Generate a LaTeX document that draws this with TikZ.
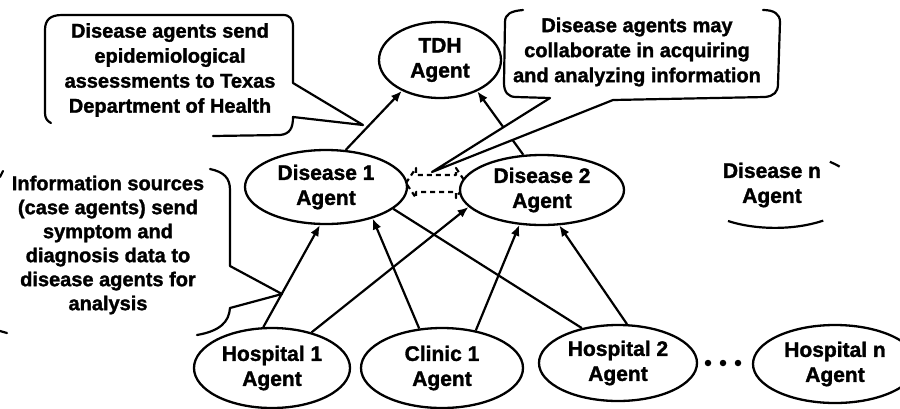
\documentclass[tikz,border=0pt]{standalone}
\usepackage{fontspec}
\setmainfont{Liberation Sans}[BoldFeatures={FakeBold=1.5}]
\usetikzlibrary{shapes.geometric,arrows.meta,backgrounds}
\begin{document}
\begin{tikzpicture}[x=1pt,y=1pt,
  agent/.style={ellipse,draw,line width=2.3pt,fill=white,inner sep=0pt,align=center,font=\fontsize{21}{25}\selectfont\bfseries},
  note/.style={align=center,font=\fontsize{20}{25}\selectfont\bfseries,inner sep=0pt},
  arr/.style={line width=2.2pt,-{Latex[length=11pt,width=9pt]}},
  link/.style={line width=2.2pt},
  callout/.style={line width=2.2pt,line join=round,line cap=round},
  dasharr/.style={line width=2.2pt,dash pattern=on 5pt off 4pt,line join=round},
]
\useasboundingbox (0,0) rectangle (900,-408);

% agents
\node[agent,minimum width=122pt,minimum height=76pt] (tdh) at (440,-60) {TDH\\Agent};
\node[agent,minimum width=162pt,minimum height=74pt] (d1) at (326,-187) {Disease 1\\Agent};
\node[agent,minimum width=164pt,minimum height=70pt] (d2) at (542,-190) {Disease 2\\Agent};
\node[note,font=\fontsize{21}{25}\selectfont\bfseries] (dn) at (772,-185) {Disease n\\Agent};
\node[agent,minimum width=156pt,minimum height=80pt] (h1) at (272,-368) {Hospital 1\\Agent};
\node[agent,minimum width=162pt,minimum height=80pt] (c1) at (442,-368) {Clinic 1\\Agent};
\node[agent,minimum width=158pt,minimum height=76pt] (h2) at (618,-363) {Hospital 2\\Agent};
\node[agent,minimum width=164pt,minimum height=78pt] (hn) at (835,-364) {Hospital n\\Agent};

% dots
\node[circle,fill,inner sep=0pt,minimum size=6.5pt] (dot1) at (708,-363) {};
\node[circle,fill,inner sep=0pt,minimum size=6.5pt] (dot2) at (723,-363) {};
\node[circle,fill,inner sep=0pt,minimum size=6.5pt] (dot3) at (738,-363) {};

% partial ellipse of Disease n
\draw[line width=2.2pt] (728,-221) arc[start angle=235,end angle=306,x radius=82pt,y radius=38pt];
\draw[line width=2.2pt] ([shift={(38:82pt and 38pt)}]775,-190) arc[start angle=38,end angle=48,x radius=82pt,y radius=38pt];

\begin{scope}[on background layer]
  \draw[arr] (h1.102.7) -- (d1.261.5);
  \draw[arr] (h1.42) -- (d2.193.7);
  \draw[arr] (c1.120.3) -- (d1.326);
  \draw[arr] (c1.48.8) -- (d2.237);
  \draw[link] (d1.342.6) -- (h2.136.5);
  \draw[arr] (h2.77.3) -- (d2.296);
  \draw[arr] (d1.62.8) -- (tdh.219.4);
  \draw[arr] (d2.118.6) -- (tdh.320.6);
  \draw[dasharr] (406,-183) -- (416,-168) -- (416,-175) -- (456,-175) -- (456,-168) -- (466,-183) -- (456,-198) -- (456,-192) -- (416,-192) -- (416,-198) -- cycle;
\end{scope}

% callout 1
\node[note] (n1) at (170,-70) {Disease agents send\\epidemiological\\assessments to Texas\\Department of Health};
\draw[callout] (213,-136) -- (280,-135) .. controls (290,-134) and (293,-128) .. (293,-117) -- (363,-125) -- (293,-83) -- (293,-27) .. controls (293,-19) and (290,-15) .. (283,-15) -- (62,-15) .. controls (50,-15) and (45,-20) .. (45,-30) -- (45,-113) .. controls (45,-118) and (47,-121) .. (51,-123);

% callout 2
\fill[white] (523,-10) .. controls (511,-11) and (505,-14) .. (505,-22) -- (504,-83) .. controls (504,-92) and (508,-97) .. (516,-97) -- (550,-98) -- (432,-172) -- (613,-100) -- (765,-97) .. controls (774,-96) and (778,-92) .. (778,-84) -- (780,-22) .. controls (780,-14) and (774,-10) .. (763,-10) -- cycle;
\draw[callout] (523,-10) .. controls (511,-11) and (505,-14) .. (505,-22) -- (504,-83) .. controls (504,-92) and (508,-97) .. (516,-97) -- (550,-98) -- (432,-172) -- (613,-100) -- (765,-97) .. controls (774,-96) and (778,-92) .. (778,-84) -- (780,-22) .. controls (780,-14) and (774,-10) .. (763,-10);
\node[note] (n2) at (637,-52) {Disease agents may\\collaborate in acquiring\\and analyzing information};

% callout 3
\node[note,font=\fontsize{20}{24}\selectfont\bfseries] (n3) at (108,-245) {Information sources\\(case agents) send\\symptom and\\diagnosis data to\\disease agents for\\analysis};
\draw[callout] (210,-169) .. controls (224,-172) and (230,-178) .. (230,-190) -- (230,-266) -- (282,-294) -- (230,-308) .. controls (229,-322) and (220,-331) .. (197,-335);
\draw[callout] (3,-171) -- (0,-177);
\draw[callout] (0,-331) -- (7,-333);
\end{tikzpicture}
\end{document}
